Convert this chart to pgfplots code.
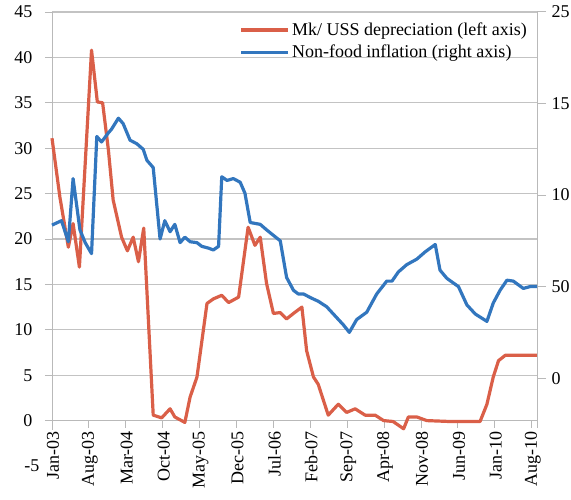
\documentclass[border=0pt]{standalone}
\usepackage{fontspec}
\setmainfont{Liberation Serif}
\usepackage{pgfplots}
\pgfplotsset{compat=1.18}
\definecolor{redline}{RGB}{218,95,72}
\definecolor{blueline}{RGB}{50,118,190}
\definecolor{gridgray}{RGB}{195,195,195}
\definecolor{axgray}{RGB}{185,185,185}
\begin{document}
\begin{tikzpicture}[font=\fontsize{18bp}{21bp}\selectfont]
\begin{axis}[
  name=L, at={(0,0)}, anchor=south west,
  scale only axis, width=485bp, height=454bp,
  xmin=0, xmax=92, ymin=-5, ymax=45,
  axis x line*=middle, axis y line*=left,
  hide obscured x ticks=false,
  y axis line style={draw=none},
  x axis line style={axgray, line width=1pt, -},
  tick align=outside, major tick length=7bp,
  tick style={axgray, line width=1pt},
  ytick={0,5,...,45},
  extra y ticks={-5},
  extra y tick style={grid=none, major tick length=0pt},
  ymajorgrids, grid style={gridgray, line width=1.2pt},
  xtick={0,7,...,91},
  xticklabels={Jan-03,Aug-03,Mar-04,Oct-04,May-05,Dec-05,Jul-06,Feb-07,Sep-07,Apr-08,Nov-08,Jun-09,Jan-10,Aug-10},
  x tick label style={rotate=90, anchor=east, yshift=-1bp},
  y tick label style={xshift=-9bp},
  /pgf/number format/assume math mode=true,
  clip=false,
]
\draw[axgray, line width=1pt] (axis cs:0,-1) -- (axis cs:0,45);
\addplot[redline, line width=3.2bp, line join=round] coordinates {
(0,31.1) (1.5,24.6) (3.1,19.1) (4.0,21.7) (5.2,16.9) (7.5,40.8) (8.6,35.1) (9.6,35.0) (10.7,29.8) (11.6,24.3) (13.2,20.2) (14.3,18.7) (15.4,20.2) (16.4,17.5) (17.4,21.2) (19.2,0.6) (20.8,0.3) (22.4,1.3) (23.3,0.4) (25.2,-0.2) (26.2,2.6) (27.5,4.8) (29.4,12.9) (30.6,13.4) (32.2,13.8) (33.5,13.0) (35.4,13.6) (37.2,21.3) (38.5,19.3) (39.5,20.2) (40.7,15.1) (42,11.8) (43.3,11.9) (44.5,11.2) (45.8,11.8) (47.4,12.5) (48.3,7.7) (49.6,4.8) (50.5,4.0) (52.4,0.6) (54.3,1.8) (55.9,0.9) (57.5,1.3) (59.4,0.6) (61.3,0.6) (62.9,0) (64.7,-0.1) (66.7,-0.9) (67.6,0.4) (69.2,0.4) (71.1,0) (75.5,-0.1) (81.2,-0.1) (82.5,1.8) (83.7,4.8) (84.7,6.6) (86,7.2) (92,7.2)
};
\end{axis}
\begin{axis}[
  at={(0,0)}, anchor=south west,
  scale only axis, width=485bp, height=454bp,
  xmin=0, xmax=92, ymin=-4.8, ymax=20,
  axis y line*=right, axis x line=none,
  y axis line style={draw=none},
  tick align=outside, major tick length=9bp,
  tick style={axgray, line width=1pt},
  ytick={0,5,10,15,20}, yticklabels={0,50,10,15,25},
  y tick label style={xshift=2bp},
  clip=false,
  legend style={draw=none, fill=none, at={(rel axis cs:0.99,0.985)}, anchor=north east,
    row sep=4bp, font=\fontsize{18bp}{21bp}\selectfont},
  legend cell align=left,
  legend image code/.code={\draw[#1] (0bp,0bp) -- (47bp,0bp);},
]
\draw[axgray, line width=1pt] (axis cs:92,-2.7) -- (axis cs:92,20);
\addlegendimage{redline, line width=3.2bp}
\addlegendentry{Mk/ USS depreciation (left axis)}
\addplot[blueline, line width=3.2bp, line join=round] coordinates {
(0,8.36) (1.8,8.6) (3.1,7.45) (4.0,10.9) (5.3,8.1) (6.3,7.4) (7.5,6.8) (8.5,13.2) (9.4,12.9) (10.7,13.4) (11.3,13.6) (12.6,14.2) (13.5,13.9) (14.8,13.0) (16.1,12.8) (17.3,12.5) (18.0,11.9) (19.2,11.5) (20.5,7.6) (21.4,8.6) (22.4,8.0) (23.3,8.4) (24.3,7.4) (25.2,7.7) (26.2,7.45) (27.5,7.4) (28.4,7.2) (29.7,7.1) (30.6,7.0) (31.6,7.2) (32.2,11.0) (33.2,10.8) (34.4,10.9) (35.7,10.7) (36.6,10.1) (37.6,8.5) (39.5,8.4) (40.7,8.1) (42,7.8) (43.3,7.5) (44.5,5.5) (45.8,4.8) (46.7,4.6) (47.7,4.6) (49,4.4) (50.5,4.2) (52.1,3.9) (53.7,3.4) (55.3,2.9) (56.4,2.5) (57.8,3.2) (59.7,3.6) (61.6,4.6) (63.5,5.3) (64.5,5.3) (65.7,5.8) (67.3,6.2) (69.2,6.5) (70.8,6.9) (72.7,7.3) (73.6,5.9) (74.9,5.45) (77.1,5.0) (78.7,4.0) (80.3,3.5) (82.5,3.1) (83.7,4.1) (85,4.8) (86.3,5.35) (87.5,5.3) (89.4,4.9) (90.7,5.0) (92,5.0)
};
\addlegendentry{Non-food inflation (right axis)}
\end{axis}
\pgfresetboundingbox
\path[use as bounding box] (-52bp,-34bp) rectangle (519bp,466bp);
\end{tikzpicture}
\end{document}
